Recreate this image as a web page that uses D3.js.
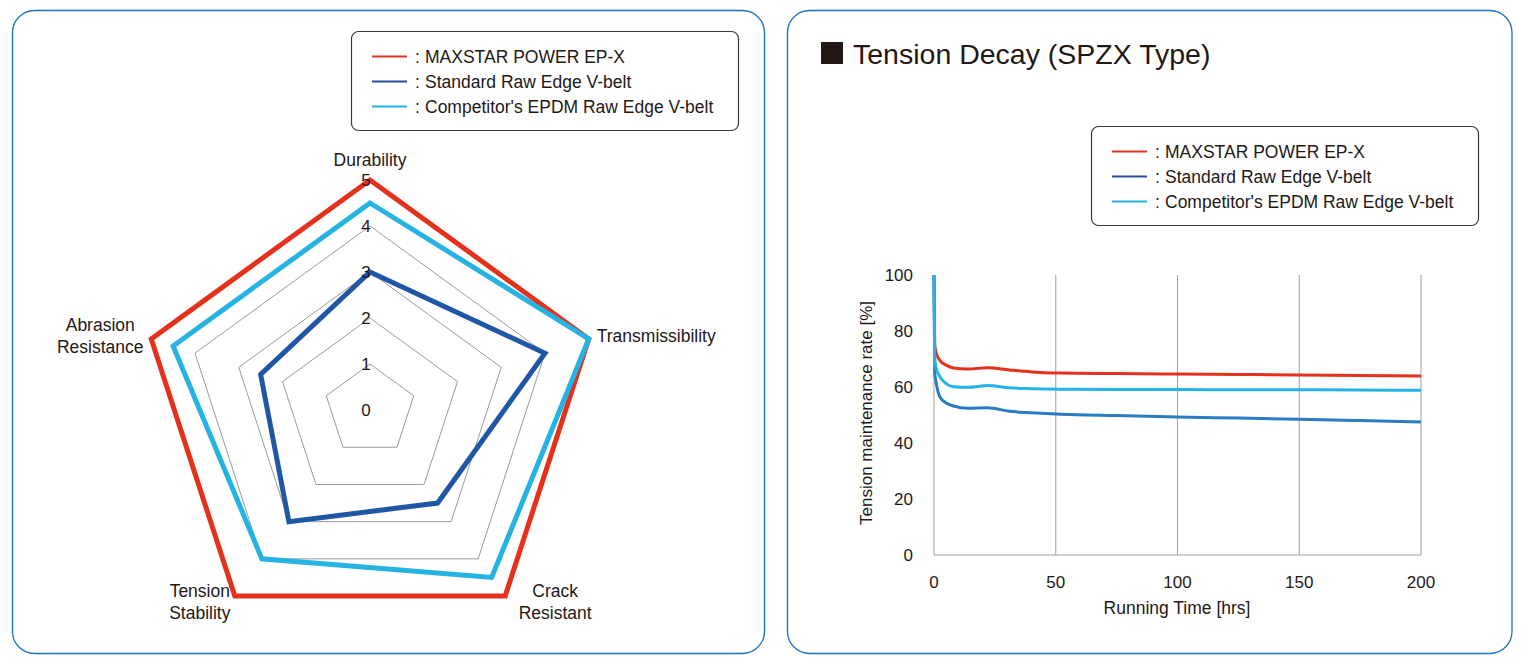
<!DOCTYPE html>
<html>
<head>
<meta charset="utf-8">
<script src="https://cdn.jsdelivr.net/npm/d3@7"></script>
<style>
  html, body { margin: 0; padding: 0; background: #fff; }
  svg { display: block; font-family: "Liberation Sans", Arial, sans-serif; }
</style>
</head>
<body>
<svg id="chart" width="1529" height="664"></svg>
<script>
// ---------- DATA ----------
const seriesNames = ["MAXSTAR POWER EP-X", "Standard Raw Edge V-belt", "Competitor's EPDM Raw Edge V-belt"];
const radarAxes = ["Durability", "Transmissibility", "Crack Resistant", "Tension Stability", "Abrasion Resistance"];
const radarMaxstar = [5, 5, 5, 5, 5];
const radarStandard = [3, 4, 2.5, 3, 2.5];
const radarCompetitor = [4.5, 5, 4.5, 4, 4.5];
const radarTicks = [0, 1, 2, 3, 4, 5];

const decayTime = [0, 0.3, 1, 2.4, 5, 8, 14, 22, 31, 40, 52, 75, 100, 125, 150, 175, 200];
const decayMaxstar = [100, 75, 72, 69.5, 67.8, 66.8, 66.4, 66.9, 66.1, 65.4, 65.0, 64.8, 64.6, 64.5, 64.3, 64.1, 63.9];
const decayStandard = [100, 65, 61, 56.5, 54.3, 53.2, 52.4, 52.6, 51.3, 50.8, 50.3, 49.8, 49.3, 48.9, 48.5, 48.0, 47.5];
const decayCompetitor = [100, 70, 66.5, 63.7, 61.2, 60.1, 59.9, 60.5, 59.7, 59.4, 59.2, 59.1, 59.1, 59.0, 59.0, 58.9, 58.8];
const xTicks = [0, 50, 100, 150, 200];
const yTicks = [0, 20, 40, 60, 80, 100];

// ---------- STYLE ----------
const RED = "#e5301c", NAVY = "#1f57a6", CYAN = "#25b3e4", LINEBLUE = "#2a7cc2", LEGNAVY = "#2b4d9c";
const TXT = "#231815";
const svg = d3.select("#chart");

// panels
svg.append("rect").attr("x", 12.5).attr("y", 10.5).attr("width", 752).attr("height", 643)
  .attr("rx", 22).attr("fill", "none").attr("stroke", "#1c6fc1").attr("stroke-width", 1.3);
svg.append("rect").attr("x", 787.5).attr("y", 10.5).attr("width", 724.5).attr("height", 643)
  .attr("rx", 22).attr("fill", "none").attr("stroke", "#1c6fc1").attr("stroke-width", 1.3);

function legend(x, y, legendColors) {
  const g = svg.append("g").attr("transform", `translate(${x},${y})`);
  g.append("rect").attr("x", 0.5).attr("y", 0.5).attr("width", 387).attr("height", 99)
    .attr("rx", 7).attr("fill", "#fff").attr("stroke", "#3a3a3a").attr("stroke-width", 1.2);
  seriesNames.forEach((n, i) => {
    const yy = 25 + i * 25;
    g.append("line").attr("x1", 21).attr("x2", 56).attr("y1", yy + 0.5).attr("y2", yy + 0.5)
      .attr("stroke", legendColors[i]).attr("stroke-width", 2);
    g.append("text").attr("x", 64).attr("y", yy + 7).attr("font-size", 17.5).attr("fill", TXT).text(":");
    g.append("text").attr("x", 74).attr("y", yy + 7).attr("font-size", 17.5).attr("fill", TXT).text(n);
  });
}

// ---------- RADAR ----------
const cx = 370, cy = 410;
const r = d3.scaleLinear().domain([0, 5]).range([0, 230]);
const angle = i => -Math.PI / 2 + i * 2 * Math.PI / radarAxes.length;
const pt = (v, i) => [cx + r(v) * Math.cos(angle(i)), cy + r(v) * Math.sin(angle(i))];
const radarLine = d3.line().curve(d3.curveLinearClosed);

radarTicks.filter(t => t > 0).forEach(t => {
  svg.append("path").attr("d", radarLine(radarAxes.map((a, i) => pt(t, i))))
    .attr("fill", "none").attr("stroke", "#9a9a9a").attr("stroke-width", 1);
});

[[radarMaxstar, RED], [radarCompetitor, CYAN], [radarStandard, NAVY]].forEach(([vals, c]) => {
  svg.append("path").attr("d", radarLine(vals.map((v, i) => pt(v, i))))
    .attr("fill", "none").attr("stroke", c).attr("stroke-width", 5).attr("stroke-linejoin", "miter");
});

radarTicks.forEach(t => {
  svg.append("text").attr("x", cx - 4).attr("y", cy - r(t) + 6).attr("text-anchor", "middle")
    .attr("font-size", 17).attr("fill", TXT).text(t);
});

// axis labels: offsets from outer vertex
const labelOffsets = [
  { dx: 0, dy: -14, anchor: "middle", lines: ["Durability"] },
  { dx: 8, dy: 3, anchor: "start", lines: ["Transmissibility"] },
  { dx: 50, dy: 1, anchor: "middle", lines: ["Crack", "Resistant"] },
  { dx: -35, dy: 1, anchor: "middle", lines: ["Tension", "Stability"] },
  { dx: -51, dy: -8, anchor: "middle", lines: ["Abrasion", "Resistance"] }
];
radarAxes.forEach((a, i) => {
  const [px, py] = pt(5, i);
  const o = labelOffsets[i];
  o.lines.forEach((ln, k) => {
    svg.append("text").attr("x", px + o.dx).attr("y", py + o.dy + k * 22)
      .attr("text-anchor", o.anchor).attr("font-size", 17.5).attr("fill", TXT).text(ln);
  });
});

legend(351, 31, [RED, LEGNAVY, CYAN]);

// ---------- TITLE ----------
svg.append("rect").attr("x", 821).attr("y", 42).attr("width", 22).attr("height", 22).attr("fill", TXT);
svg.append("text").attr("x", 853).attr("y", 64).attr("font-size", 28.5).attr("fill", TXT)
  .text("Tension Decay (SPZX Type)");

legend(1091, 126, [RED, LEGNAVY, CYAN]);

// ---------- LINE CHART ----------
const x = d3.scaleLinear().domain([0, 200]).range([934, 1421]);
const y = d3.scaleLinear().domain([0, 100]).range([555, 275]);

xTicks.filter(t => t > 0).forEach(t => {
  svg.append("line").attr("x1", x(t)).attr("x2", x(t)).attr("y1", y(0)).attr("y2", y(100))
    .attr("stroke", "#a0a0a0").attr("stroke-width", 1);
});
svg.append("line").attr("x1", x(0)).attr("x2", x(0)).attr("y1", y(0)).attr("y2", y(100))
  .attr("stroke", "#a0a0a0").attr("stroke-width", 1);
svg.append("line").attr("x1", x(0)).attr("x2", x(200)).attr("y1", y(0)).attr("y2", y(0))
  .attr("stroke", "#a0a0a0").attr("stroke-width", 1);

yTicks.forEach(t => {
  svg.append("text").attr("x", 913).attr("y", y(t) + 6).attr("text-anchor", "end")
    .attr("font-size", 17).attr("fill", TXT).text(t);
});
xTicks.forEach(t => {
  svg.append("text").attr("x", x(t)).attr("y", 588).attr("text-anchor", "middle")
    .attr("font-size", 17).attr("fill", TXT).text(t);
});
svg.append("text").attr("x", 1177).attr("y", 614).attr("text-anchor", "middle")
  .attr("font-size", 17.5).attr("fill", TXT).text("Running Time [hrs]");
svg.append("text").attr("transform", "translate(872,413) rotate(-90)").attr("text-anchor", "middle")
  .attr("font-size", 17).attr("fill", TXT).text("Tension maintenance rate [%]");

const line = d3.line().x((d, i) => x(decayTime[i])).y(d => y(d)).curve(d3.curveMonotoneX);
[[decayMaxstar, RED], [decayStandard, LINEBLUE], [decayCompetitor, CYAN]].forEach(([vals, c]) => {
  svg.append("path").attr("d", line(vals)).attr("fill", "none").attr("stroke", c)
    .attr("stroke-width", 3).attr("stroke-linejoin", "round");
});
</script>
</body>
</html>
